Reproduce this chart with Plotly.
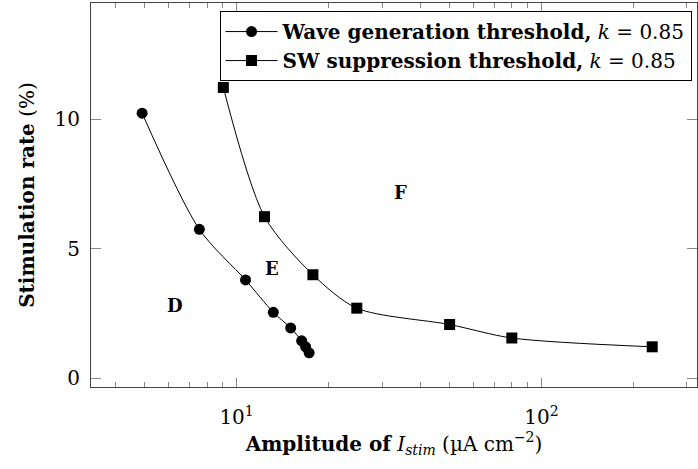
import numpy as np
import plotly.graph_objects as go

# ---- data ----
wave_x = [4.9, 7.55, 10.7, 13.2, 15.05, 16.35, 16.85, 17.3]
wave_y = [10.23, 5.75, 3.80, 2.55, 1.95, 1.45, 1.22, 0.99]

sw_x = [9.05, 12.35, 17.8, 24.8, 50, 80, 231]
sw_y = [11.22, 6.24, 4.00, 2.71, 2.08, 1.56, 1.22]

region_labels = ["D", "E", "F"]
region_x = [6.3, 13.1, 34.4]
region_y = [2.80, 4.25, 7.17]

x_tickvals = [10, 100]
x_ticktext = ["10<sup>1</sup>", "10<sup>2</sup>"]
x_minor = [4, 5, 6, 7, 8, 9, 20, 30, 40, 50, 60, 70, 80, 90, 200, 300]
y_tickvals = [0, 5, 10]
y_ticktext = ["0", "5", "10"]

FONT = "DejaVu Serif"

fig = go.Figure()
fig.add_trace(go.Scatter(
    x=wave_x, y=wave_y, mode="lines+markers",
    name="<b>Wave generation threshold,</b> <i>k</i> = 0.85",
    line=dict(color="black", width=1, shape="spline", smoothing=0.8),
    marker=dict(symbol="circle", size=11, color="black"),
))
fig.add_trace(go.Scatter(
    x=sw_x, y=sw_y, mode="lines+markers",
    name="<b>SW suppression threshold,</b> <i>k</i> = 0.85",
    line=dict(color="black", width=1, shape="spline", smoothing=0.8),
    marker=dict(symbol="square", size=11, color="black"),
))

for t, x, y in zip(region_labels, region_x, region_y):
    fig.add_annotation(x=np.log10(x), y=y, text=f"<b>{t}</b>", showarrow=False,
                       font=dict(family=FONT, size=18, color="black"))

axis_common = dict(
    showgrid=False, zeroline=False, showline=True, linecolor="#444", linewidth=1,
    mirror="allticks", ticks="inside", tickcolor="#888", tickwidth=1,
    tickfont=dict(family=FONT, size=20, color="black"), automargin=False,
)

fig.update_xaxes(
    type="log", range=[np.log10(3.33), np.log10(324)],
    tickvals=x_tickvals, ticktext=x_ticktext, ticklen=9,
    minor=dict(ticks="inside", tickvals=x_minor, ticklen=5, tickcolor="#888", showgrid=False),
    title=dict(text="<b>Amplitude of</b> <i>I</i><sub><i>stim</i></sub> (µA cm<sup>−2</sup>)",
               font=dict(family=FONT, size=20, color="black"), standoff=8),
    ticklabelstandoff=12,
    **axis_common,
)
fig.update_yaxes(
    range=[-0.33, 14.48], tickvals=y_tickvals, ticktext=y_ticktext, ticklen=10,
    title=dict(text="<b>Stimulation rate</b> (%)",
               font=dict(family=FONT, size=20, color="black"), standoff=14),
    ticklabelstandoff=6,
    **axis_common,
)

fig.update_layout(
    width=698, height=469,
    margin=dict(l=91, r=1, t=3, b=82, autoexpand=False),
    paper_bgcolor="white", plot_bgcolor="white",
    font=dict(family=FONT, color="black"),
    legend=dict(
        x=0.991, y=0.979, xanchor="right", yanchor="top",
        bgcolor="white", bordercolor="black", borderwidth=1,
        font=dict(family=FONT, size=20, color="black"),
        itemwidth=52,
    ),
)

fig.write_html("out.html", config={"displayModeBar": False},
               post_script=["document.body.style.margin='0';"])
